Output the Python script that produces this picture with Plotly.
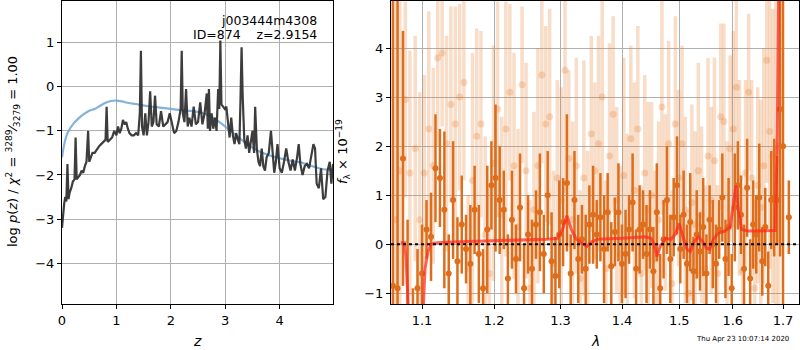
import math
import plotly.graph_objects as go

# ---------------- left panel: p(z) ----------------
z_pz = [0.00,0.02,0.04,0.06,0.08,0.10,0.12,0.14,0.17,0.20,0.23,0.25,0.27,0.30,0.33,0.36,0.39,0.42,0.45,0.48,
        0.50,0.53,0.56,0.60,0.64,0.68,0.72,0.76,0.80,0.82,0.84,0.88,0.92,0.96,1.00,1.03,1.06,1.09,1.12,1.15,
        1.18,1.21,1.24,1.28,1.32,1.36,1.40,1.43,1.45,1.47,1.50,1.53,1.56,1.59,1.62,1.65,1.68,1.71,1.74,1.78,
        1.82,1.86,1.90,1.94,1.98,2.02,2.06,2.10,2.14,2.18,2.20,2.22,2.25,2.28,2.31,2.34,2.38,2.42,2.46,2.50,
        2.54,2.58,2.62,2.66,2.68,2.70,2.72,2.75,2.78,2.81,2.84,2.87,2.89,2.91,2.93,2.96,2.99,3.02,3.05,3.08,
        3.11,3.14,3.17,3.20,3.23,3.26,3.28,3.30,3.32,3.35,3.38,3.41,3.44,3.47,3.50,3.53,3.55,3.58,3.61,3.64,
        3.67,3.70,3.73,3.76,3.80,3.84,3.87,3.90,3.93,3.96,4.00,4.04,4.08,4.12,4.16,4.20,4.24,4.28,4.32,4.35,
        4.38,4.42,4.46,4.50,4.54,4.58,4.62,4.65,4.68,4.72,4.76,4.80,4.84,4.88,4.92,4.95,4.98]
logp_z = [-3.2,-2.8,-2.65,-2.5,-2.6,-1.75,-2.55,-2.4,-2.3,-2.15,-2.1,-1.15,-2.1,-2.05,-2.0,-1.9,-1.95,-1.8,-1.7,-1.0,
          -1.7,-1.6,-1.5,-1.5,-1.42,-1.35,-1.3,-1.25,-1.2,-0.45,-1.25,-1.2,-1.15,-1.0,-1.1,-0.9,-1.05,-0.95,-0.75,-0.85,
          -0.8,-0.95,-1.05,-1.1,-1.1,-1.05,-1.1,-0.6,0.82,-0.9,-1.1,-0.6,-1.1,-0.8,-0.1,-0.9,-0.8,-0.2,-0.85,-0.9,
          -0.55,-0.9,-0.85,-0.8,-0.6,-0.85,-1.05,-1.0,-0.8,-0.5,0.82,-0.6,-0.8,-0.05,-0.9,-0.7,-0.9,-0.45,-0.85,-0.8,
          -0.35,-0.85,-0.6,-0.15,-0.95,-0.05,-1.0,-0.6,-0.95,-0.7,-1.0,-0.05,-0.5,1.05,-0.4,-0.45,-0.5,-0.45,-0.9,-1.15,
          -0.7,-1.1,-1.3,-1.05,-1.2,-1.3,-0.3,0.9,-0.2,-1.2,-1.4,-1.1,-1.5,-1.2,-1.0,-1.5,-0.45,-1.4,-1.7,-1.8,
          -1.4,-1.8,-1.9,-1.6,-1.5,-1.0,-1.6,-1.95,-1.7,-1.3,-1.85,-1.95,-1.7,-1.4,-1.7,-1.9,-1.65,-1.9,-1.6,-1.3,
          -1.75,-2.0,-1.8,-1.75,-1.85,-1.6,-1.3,-1.4,-2.2,-2.3,-1.85,-2.55,-2.5,-1.9,-1.7,-2.2,-1.75]
z_prior = [0,0.05,0.1,0.2,0.3,0.4,0.5,0.6,0.7,0.8,0.9,1.0,1.1,1.2,1.4,1.6,1.8,2.0,2.2,2.4,2.6,2.8,3.0,3.2,3.4,3.6,3.8,4.0,4.2,4.4,4.6,4.8,4.98]
logp_prior = [-1.6,-1.25,-1.05,-0.85,-0.72,-0.62,-0.54,-0.5,-0.43,-0.36,-0.32,-0.31,-0.33,-0.36,-0.4,-0.44,-0.47,-0.5,
              -0.53,-0.55,-0.6,-0.72,-0.9,-1.1,-1.3,-1.45,-1.55,-1.62,-1.68,-1.72,-1.8,-1.87,-1.88]

# ---------------- right panel: spectrum ----------------
lam_a = [1.062,1.068,1.075,1.081,1.088,1.094,1.100,1.106,1.112,1.118,1.124,1.130,1.136,1.142,1.148,1.154,1.160,1.166,1.172,1.178,
         1.184,1.190,1.196,1.202,1.208,1.214,1.220,1.226,1.232,1.238,1.244,1.250,1.256,1.262,1.268,1.274,1.280,1.286,1.292,1.298,
         1.304,1.310,1.316,1.322,1.328,1.334,1.340,1.346,1.352,1.358,1.364,1.370,1.376,1.382,1.388,1.394,1.400,1.406,1.412,1.418,
         1.424,1.430,1.436,1.442,1.448,1.454,1.460,1.466,1.472,1.478,1.484,1.490,1.496,1.502,1.508,1.514,1.520,1.526,1.532,1.538,
         1.544,1.550,1.556,1.562,1.568,1.574,1.580,1.586,1.592,1.598,1.604,1.610,1.616,1.622,1.628,1.634,1.640,1.646,1.652,1.658,
         1.664,1.670,1.676,1.682,1.688,1.694,1.700,1.712]
flux_a = [-0.85,-0.9,1.75,-1.5,-1.4,-0.9,-0.6,0.3,0.15,1.55,1.35,0.7,-0.6,0.9,-0.35,0.4,-0.1,-0.4,0.7,-0.2,
          -0.9,0.3,1.2,1.35,0.9,0.7,-0.7,0.5,-0.3,0.75,-0.9,0.2,-0.5,0.4,0.65,-0.2,1.0,-0.35,-0.65,0.2,
          0.45,1.25,-0.6,0.9,-0.3,0.1,-0.5,0.4,0.6,0.2,0.55,-0.1,0.65,-0.45,0.25,0.65,-0.4,-0.2,0.3,0.85,
          -0.5,0.3,0.4,-0.2,0.3,-0.55,0.65,-0.9,0.1,0.9,-0.3,0.55,1.2,-0.1,0.6,-0.4,0.45,-0.55,0.2,-0.15,
          0.35,-0.6,0.5,0.0,-0.4,0.3,0.95,-0.3,0.35,-0.9,0.75,1.2,0.6,-0.5,1.15,-0.7,0.4,0.2,0.95,-0.35,
          0.35,-0.85,0.9,0.95,0.9,2.75,2.0,0.55]
err_a = [6,6,2.6,2.0,0.5,0.8,1.0,0.6,0.9,1.1,1.0,1.6,0.8,1.2,0.9,1.0,0.7,1.2,0.9,1.0,
         0.8,1.3,0.9,1.5,1.1,0.8,0.9,1.0,0.7,1.1,0.9,0.8,1.0,0.7,1.2,0.8,0.9,1.0,0.8,1.1,
         0.9,1.4,0.8,1.0,0.9,0.7,1.1,0.8,1.0,0.7,0.9,1.1,0.8,0.9,0.7,1.0,0.8,0.9,0.7,1.0,
         0.8,0.9,0.7,1.0,0.8,0.9,1.0,0.7,0.8,1.1,0.9,0.8,1.0,0.7,0.9,0.8,1.0,0.7,0.9,0.8,
         1.0,0.8,0.7,0.9,0.8,0.6,0.9,0.8,1.0,0.7,1.1,0.9,0.8,0.9,1.0,0.8,0.9,0.8,1.1,0.7,
         0.8,0.7,1.0,1.2,0.9,3.0,6.0,0.75]

lam_b = [1.065,1.071,1.078,1.084,1.091,1.097,1.103,1.109,1.115,1.121,1.127,1.133,1.139,1.145,1.151,1.157,1.163,1.169,1.175,1.181,
         1.187,1.193,1.199,1.205,1.211,1.217,1.223,1.229,1.235,1.241,1.247,1.253,1.259,1.265,1.271,1.277,1.283,1.289,1.295,1.301,
         1.307,1.313,1.319,1.325,1.331,1.337,1.343,1.349,1.355,1.361,1.367,1.373,1.379,1.385,1.391,1.397,1.403,1.409,1.415,1.421,
         1.427,1.433,1.439,1.445,1.451,1.457,1.463,1.469,1.475,1.481,1.487,1.493,1.499,1.505,1.511,1.517,1.523,1.529,1.535,1.541,
         1.547,1.553,1.559,1.565,1.571,1.577,1.583,1.589,1.595,1.601,1.607,1.613,1.619,1.625,1.631,1.637,1.643,1.649,1.655,1.661,
         1.667,1.673,1.679,1.685,1.691]
flux_b = [0.5,1.5,2.95,1.45,1.95,0.5,1.45,2.35,1.6,3.8,3.9,2.05,2.85,2.45,3.0,3.3,-0.5,1.3,2.2,2.45,
          0.2,-0.6,1.65,2.75,0.6,2.35,3.1,1.6,0.35,3.25,1.5,-0.9,0.7,1.6,3.45,2.45,2.6,-0.4,1.35,0.9,
          3.55,1.75,0.5,1.6,-0.7,1.35,0.0,2.25,1.5,2.05,3.0,-0.5,1.8,2.65,0.9,-0.2,1.4,0.25,2.15,1.1,
          2.35,-0.6,1.45,0.7,1.0,-0.3,0.5,2.8,0.85,2.05,-0.8,2.45,1.35,2.05,0.7,-1.0,0.85,0.4,1.5,0.6,
          -0.5,1.8,0.9,1.7,-0.6,2.6,2.5,0.3,1.95,2.35,3.2,1.35,-0.55,1.45,3.1,1.35,-0.9,1.2,0.75,1.6,
          3.75,2.3,1.8,1.9,2.0]
err_b = [5,3.5,2.0,2.5,2.3,2.6,2.0,2.4,2.0,1.8,1.5,2.2,2.0,2.4,1.9,2.0,1.5,2.6,2.2,1.9,
         2.0,1.8,2.4,2.2,2.0,2.6,1.8,2.3,2.0,1.6,2.2,1.8,2.0,2.4,1.8,2.0,2.2,1.9,2.0,2.3,
         2.5,1.8,2.0,2.2,1.8,2.4,1.9,2.0,1.8,2.2,2.0,1.8,2.3,2.0,1.9,1.8,2.4,2.0,1.9,2.2,
         2.1,1.8,2.0,2.2,1.9,1.8,2.0,2.2,1.8,2.1,1.9,2.2,1.8,2.0,1.9,1.7,2.0,1.9,2.2,1.8,
         1.7,2.0,1.9,2.1,1.8,1.9,2.0,1.8,1.9,2.0,1.8,2.0,1.7,1.9,1.6,2.0,1.8,2.0,2.2,2.4,
         2.5,2.8,3.0,3.5,4.0]

lam_model = [1.072,1.077,1.079,1.082,1.090,1.098,1.101,1.104,1.108,1.112,1.12,1.15,1.2,1.25,1.28,1.295,1.303,1.310,1.317,1.325,
             1.335,1.342,1.35,1.36,1.40,1.44,1.45,1.455,1.460,1.466,1.475,1.485,1.493,1.500,1.507,1.514,1.520,1.527,1.535,1.543,
             1.550,1.556,1.563,1.572,1.585,1.595,1.601,1.606,1.611,1.617,1.63,1.66,1.684,1.688,1.692]
flux_model = [0.03,0.03,-0.3,-1.5,-4,-4,-1.5,-0.5,-0.15,0.0,0.03,0.05,0.07,0.08,0.1,0.12,0.3,0.58,0.3,0.1,
              0.02,-0.05,0.05,0.1,0.12,0.15,0.12,0.0,-0.25,-0.05,0.12,0.1,0.2,0.42,0.15,-0.1,-0.15,0.05,0.15,0.05,
              -0.08,-0.1,0.1,0.22,0.27,0.35,0.8,1.2,0.7,0.3,0.27,0.28,0.28,2.0,6.0]

lam_ticks = [1.1, 1.2, 1.3, 1.4, 1.5, 1.6, 1.7]

W, H = 800, 350
L1, R1 = 62, 333
L2, R2 = 391, 799
TOP, BOT = 1, 304

def px(xp): return xp / W
def py(yp): return 1 - yp / H

DARK = "rgb(222,110,28)"
LIGHT = "rgba(228,118,36,0.25)"
FONT = "DejaVu Sans"

fig = go.Figure()

fig.add_trace(go.Scatter(x=z_prior, y=logp_prior, mode="lines", line=dict(color="rgba(110,165,212,0.85)", width=2.2, shape="spline"),
                         xaxis="x", yaxis="y", hoverinfo="skip"))
fig.add_trace(go.Scatter(x=z_pz, y=logp_z, mode="lines", line=dict(color="rgba(45,45,45,0.92)", width=2.2),
                         xaxis="x", yaxis="y", hoverinfo="skip"))

fig.add_trace(go.Scatter(x=lam_b, y=flux_b, mode="markers", marker=dict(color=LIGHT, size=7),
                         error_y=dict(type="data", array=err_b, color=LIGHT, thickness=3.5, width=0),
                         xaxis="x2", yaxis="y2", hoverinfo="skip"))
fig.add_trace(go.Scatter(x=lam_a, y=flux_a, mode="markers", marker=dict(color=DARK, size=6),
                         error_y=dict(type="data", array=err_a, color=DARK, thickness=2.5, width=0),
                         xaxis="x2", yaxis="y2", hoverinfo="skip"))
fig.add_trace(go.Scatter(x=lam_model, y=flux_model, mode="lines", line=dict(color="rgba(255,40,30,0.72)", width=3),
                         xaxis="x2", yaxis="y2", hoverinfo="skip"))

fig.add_shape(type="line", xref="x2 domain", yref="y2", x0=0, x1=1, y0=0, y1=0,
              line=dict(color="black", width=2, dash="dot"), layer="above")

axis_common = dict(showline=True, linecolor="black", linewidth=1, mirror=True, ticks="outside", ticklen=4,
                   tickcolor="black", showgrid=True, gridcolor="#b0b0b0", gridwidth=1, zeroline=False,
                   automargin=False, tickfont=dict(family=FONT, size=13, color="black"))

fig.update_layout(
    width=W, height=H, margin=dict(l=0, r=0, t=0, b=0),
    paper_bgcolor="white", plot_bgcolor="white", showlegend=False,
    xaxis=dict(domain=[px(L1), px(R1)], range=[0, 4.98], tickvals=[0, 1, 2, 3, 4], anchor="y", **axis_common),
    yaxis=dict(domain=[py(BOT), py(TOP)], range=[-4.93, 1.95], tickvals=[-4, -3, -2, -1, 0, 1], anchor="x", **axis_common),
    xaxis2=dict(domain=[px(L2), px(R2)], type="log", range=[math.log10(1.0596), math.log10(1.7331)],
                tickvals=lam_ticks, ticktext=[f"{t:.1f}" for t in lam_ticks], anchor="y2", **axis_common),
    yaxis2=dict(domain=[py(BOT), py(TOP)], range=[-1.22, 4.96], tickvals=[-1, 0, 1, 2, 3, 4], anchor="x2", **axis_common),
)

ann = [
    dict(text="<i>z</i>", x=px((L1 + R1) / 2), y=py(341), font=dict(size=14)),
    dict(text="<i>λ</i>", x=px((L2 + R2) / 2), y=py(341), font=dict(size=14)),
    dict(text="log <i>p</i>(<i>z</i>) / <i>χ</i><sup>2</sup> = <sup>3289</sup>⁄<sub>3279</sub> = 1.00",
         x=px(13), y=py(152), textangle=-90, font=dict(size=13)),
    dict(text="<i>f</i><sub>λ</sub> × 10<sup>−19</sup>", x=px(343), y=py(152), textangle=-90, font=dict(size=13)),
    dict(text="j003444m4308", x=px(319), y=py(20), xanchor="right", font=dict(size=12.5)),
    dict(text="ID=874    z=2.9154", x=px(319), y=py(35), xanchor="right", font=dict(size=12.5)),
    dict(text="Thu Apr 23 10:07:14 2020", x=px(742), y=py(339), font=dict(size=7)),
]
for a in ann:
    a.setdefault("xref", "paper"); a.setdefault("yref", "paper"); a.setdefault("showarrow", False)
    a["font"] = dict(family=FONT, color="black", **a["font"])
    a.setdefault("xanchor", "center"); a.setdefault("yanchor", "middle")
    fig.add_annotation(**a)

fig.write_html("out.html", config={"displayModeBar": False},
               post_script="document.body.style.margin='0';document.body.style.overflow='hidden';")
